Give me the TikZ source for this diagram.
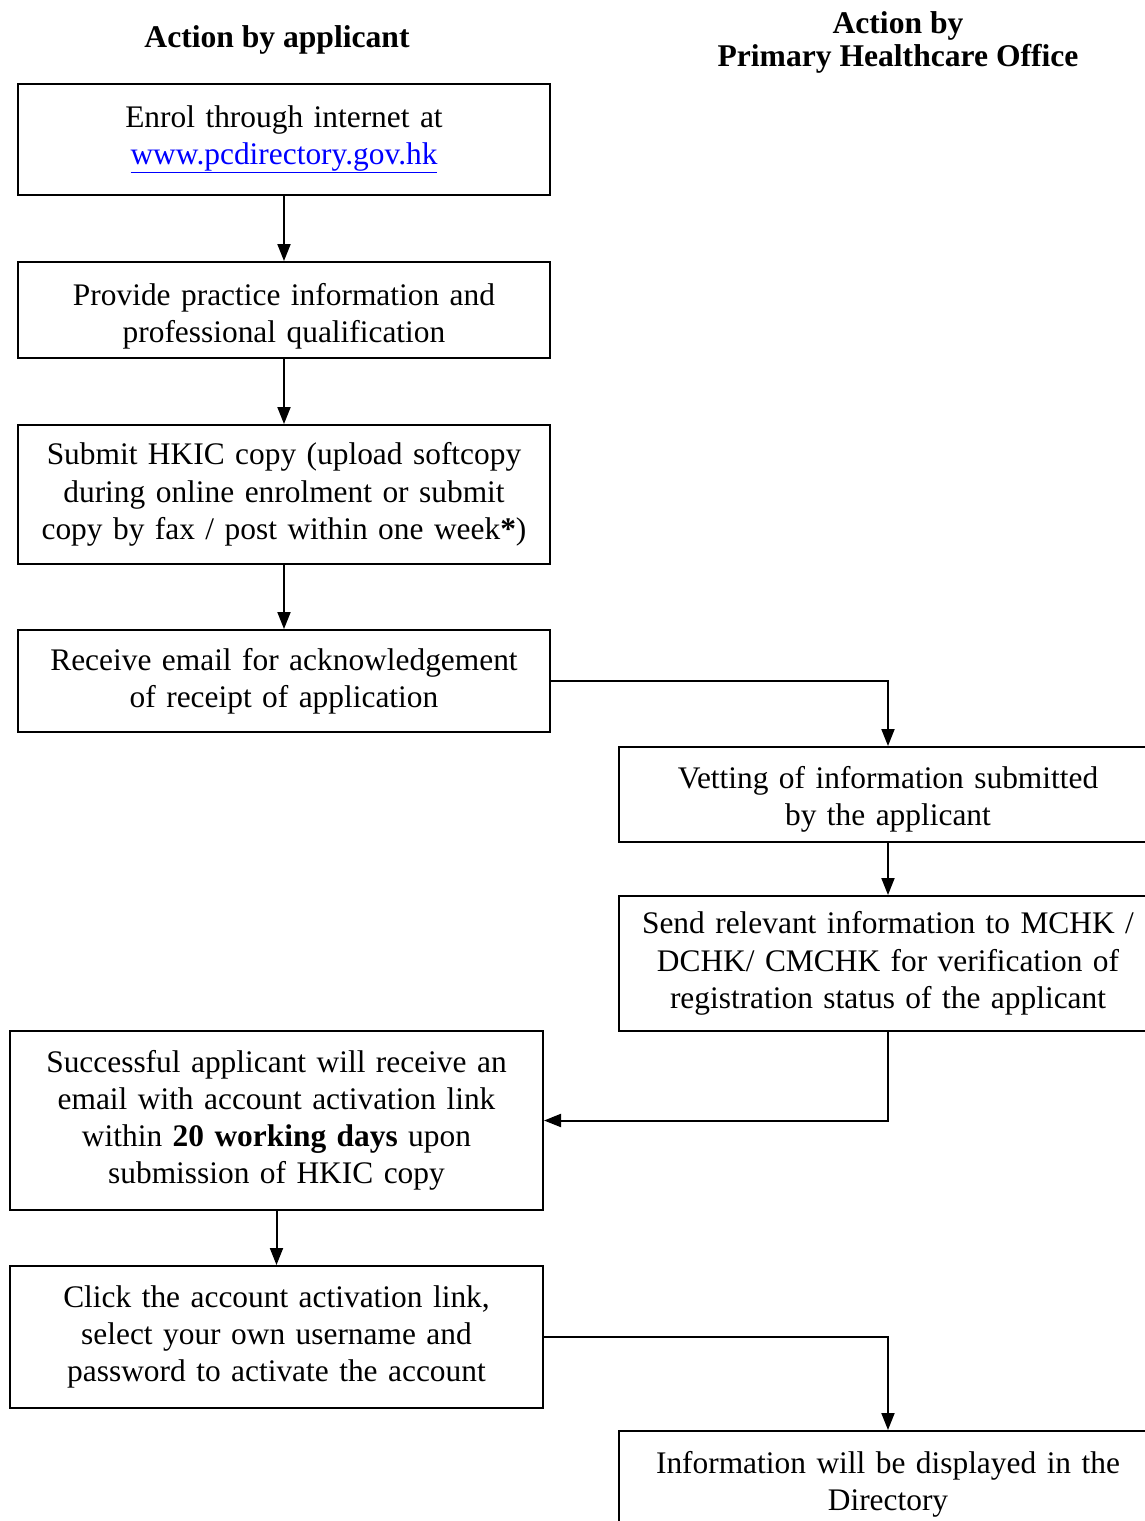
\documentclass[tikz,border=0pt]{standalone}
\usepackage{fontspec}
\setmainfont{Liberation Serif}
\usetikzlibrary{arrows.meta}
\definecolor{linkblue}{RGB}{0,0,255}
\begin{document}
\begin{tikzpicture}[x=1pt,y=-1pt,
  box/.style={draw=black,line width=2pt,rectangle,inner sep=0pt,align=center,
    font=\fontsize{31.4}{37.2}\selectfont},
  lbox/.style={box,minimum width=532pt,text width=520pt},
  rbox/.style={box,minimum width=538pt,text width=526pt},
  head/.style={align=center,inner sep=0pt,font=\fontsize{31.6}{33}\selectfont\bfseries},
  conn/.style={line width=2pt,-{Triangle[width=13pt,length=17pt]}}]
\useasboundingbox (0,0) rectangle (1145,1521);
\clip (0,0) rectangle (1145,1521);
\node[head] (h1) at (277,40) {Action by applicant};
\node[head] (h2) at (898,42) {Action by\\Primary Healthcare Office};
\node[lbox,minimum height=111pt] (b1) at (284,139.5) {Enrol through internet at\\[-1pt]\textcolor{linkblue}{\underline{www.pcdirectory.gov.hk}}};
\node[lbox,minimum height=96pt] (b2) at (284,310) {\rule{0pt}{34pt}Provide practice information and\\professional qualification};
\node[lbox,minimum height=139pt] (b3) at (284,494.5) {Submit HKIC copy (upload softcopy\\during online enrolment or submit\\copy by fax / post within one week\textbf{*})};
\node[lbox,minimum height=102pt] (b4) at (284,681) {Receive email for acknowledgement\\of receipt of application};
\node[rbox,minimum height=95pt] (b5) at (888,794.5) {\rule{0pt}{32pt}Vetting of information submitted\\by the applicant};
\node[rbox,minimum height=135pt] (b6) at (888,963.5) {Send relevant information to MCHK /\\DCHK/ CMCHK for verification of\\registration status of the applicant};
\node[lbox,minimum width=533pt,minimum height=179pt] (b7) at (276.5,1120.5) {Successful applicant will receive an\\email with account activation link\\within \textbf{20 working days} upon\\submission of HKIC copy};
\node[lbox,minimum width=533pt,minimum height=142pt] (b8) at (276.5,1337) {Click the account activation link,\\select your own username and\\password to activate the account};
\node[rbox,minimum height=96pt] (b9) at (888,1479) {\rule{0pt}{32pt}Information will be displayed in the\\Directory};
\draw[conn] (b1.south) -- (b2.north);
\draw[conn] (b2.south) -- (b3.north);
\draw[conn] (b3.south) -- (b4.north);
\draw[conn] (b4.east) -| (b5.north);
\draw[conn] (b5.south) -- (b6.north);
\draw[conn] (b6.south) |- (b7.east);
\draw[conn] (b7.south) -- (b8.north);
\draw[conn] (b8.east) -| (b9.north);
\end{tikzpicture}
\end{document}
